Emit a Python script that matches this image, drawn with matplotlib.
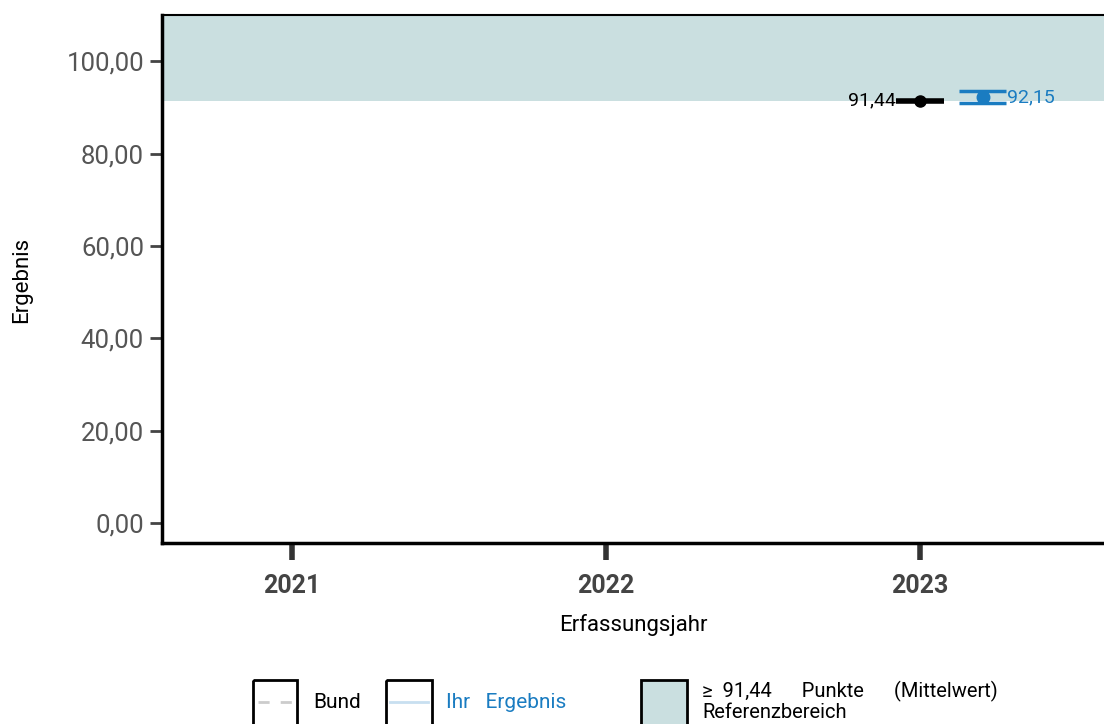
import matplotlib
matplotlib.use('Agg')
import matplotlib.pyplot as plt
from matplotlib.patches import Rectangle
from matplotlib.lines import Line2D

plt.rcParams['font.family'] = ['Roboto', 'DejaVu Sans']

# data
years = [2021, 2022, 2023]
bund_year = 2023
bund_value = 91.44
ihr_year = 2023.2
ihr_value = 92.15
ihr_lower = 90.9
ihr_upper = 93.5
ref_lower = 91.44
ref_upper = 110
y_ticks = [0, 20, 40, 60, 80, 100]

blue = '#1a7cc1'
band = '#cadfe0'
grey_txt = '#555555'


def fmt(v):
    return f'{v:.2f}'.replace('.', ',')


fig = plt.figure(figsize=(11.04, 7.24), dpi=100)
ax = fig.add_axes([162 / 1104, 1 - 543 / 724, (1104 - 162) / 1104, (543 - 15) / 724])

ax.set_xlim(2020.586, 2023.586)
ax.set_ylim(-4.33, 110)

ax.axhspan(ref_lower, ref_upper, color=band, zorder=0, lw=0)

# Bund
half = 0.075
ax.plot([bund_year - half, bund_year + half], [bund_value, bund_value], color='black', lw=4, solid_capstyle='butt', zorder=3)
ax.plot([bund_year], [bund_value], 'o', color='black', ms=8, zorder=4)
ax.text(bund_year - half - 0.003, bund_value, fmt(bund_value), ha='right', va='center', fontsize=14, color='black')

# Ihr Ergebnis
for v in (ihr_lower, ihr_upper):
    ax.plot([ihr_year - half, ihr_year + half], [v, v], color=blue, lw=2.5, solid_capstyle='butt', zorder=3)
ax.plot([ihr_year, ihr_year], [ihr_lower, ihr_upper], color=blue, lw=2, zorder=3)
ax.plot([ihr_year], [ihr_value], 'o', color=blue, ms=9, zorder=4)
ax.text(ihr_year + half + 0.003, ihr_value, fmt(ihr_value), ha='left', va='center', fontsize=14, color=blue)

ax.set_xticks(years)
ax.set_xticklabels([str(y) for y in years], fontsize=18, fontweight='bold', color='#444444')
ax.set_yticks(y_ticks)
ax.set_yticklabels([fmt(v) for v in y_ticks], fontsize=18.5, color=grey_txt)
ax.tick_params(axis='x', length=12, width=4, color='#333333', pad=10)
ax.tick_params(axis='y', length=9, width=2, color='#444444', pad=4)

ax.spines['right'].set_visible(False)
ax.spines['left'].set_linewidth(2.5)
ax.spines['bottom'].set_linewidth(2.5)
ax.spines['top'].set_linewidth(1.5)

ax.set_xlabel('Erfassungsjahr', fontsize=16, labelpad=12)
fig.text(22 / 1104, 1 - 280 / 724, 'Ergebnis', rotation=90, ha='center', va='center', fontsize=16)

# legend
leg = fig.add_axes([0, 0, 1, 1], facecolor='none')
leg.set_xlim(0, 1104)
leg.set_ylim(724, 0)
leg.axis('off')
leg.add_patch(Rectangle((253, 680), 44, 60, fill=False, ec='black', lw=2))
leg.add_line(Line2D([258, 293], [702, 702], color='#cccccc', lw=2, ls=(0, (4, 4))))
leg.text(313, 702, 'Bund', fontsize=15, va='center', ha='left')
leg.add_patch(Rectangle((386, 680), 46, 60, fill=False, ec='black', lw=2))
leg.add_line(Line2D([390, 428], [702, 702], color='#c8dff0', lw=2))
leg.text(446, 702, 'Ihr   Ergebnis', fontsize=15, va='center', ha='left', color=blue)
leg.add_patch(Rectangle((641, 680), 46, 60, fc=band, ec='black', lw=2))
leg.text(702, 691, '\u2265  91,44      Punkte      (Mittelwert)', fontsize=14.5, va='center', ha='left')
leg.text(702, 712, 'Referenzbereich', fontsize=14.5, va='center', ha='left')

fig.savefig('out.png', dpi=100)
